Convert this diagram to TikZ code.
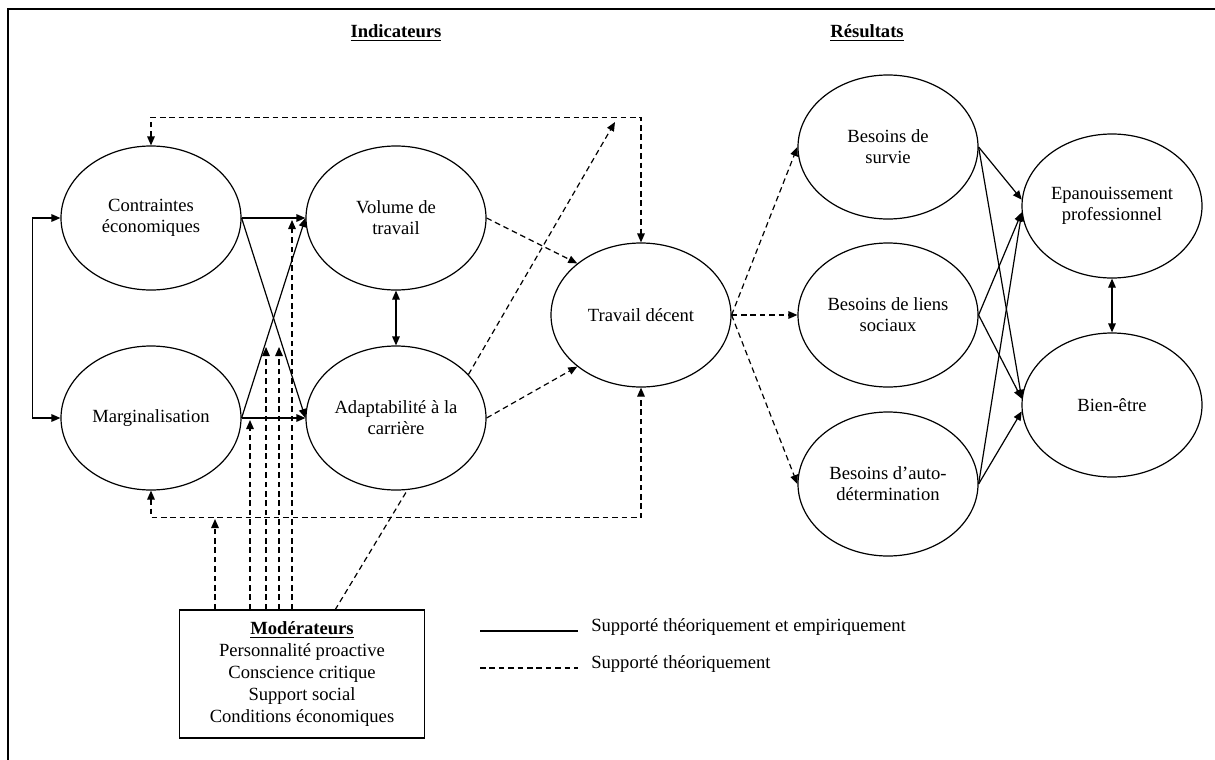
\documentclass[tikz,border=0pt]{standalone}
\usepackage{fontspec}
\setmainfont{Liberation Serif}
\usetikzlibrary{arrows.meta,shapes.geometric}

\begin{document}
\begin{tikzpicture}[x=0.5pt, y=-0.5pt, line width=0.6pt,
        >={Triangle[length=4.5pt,width=3.8pt]},
        every node/.style={font=\fontsize{9.3}{10.6}\selectfont},
        var/.style={draw, ellipse, minimum width=90pt, minimum height=72pt, inner sep=0pt, align=center},
        dl/.style={dash pattern=on 2.8pt off 1.9pt}]
    \useasboundingbox (0,0) rectangle (1215,760);
    \draw[line width=1.3pt] (8,760) -- (8,9) -- (1215,9);

    \node (ind) at (396,33) {\underline{\textbf{Indicateurs}}};
    \node (res) at (867,33) {\underline{\textbf{Résultats}}};

    \node[var] (cont)  at (151,218)  {Contraintes\\économiques};
    \node[var] (marg)  at (151,418)  {Marginalisation};
    \node[var] (vol)   at (396,218)  {Volume de\\travail};
    \node[var] (adapt) at (396,418)  {Adaptabilité à la\\carrière};
    \node[var] (trav)  at (641,315)  {Travail décent};
    \node[var] (surv)  at (888,147)  {Besoins de\\survie};
    \node[var] (lien)  at (888,315)  {Besoins de liens\\sociaux};
    \node[var] (auto)  at (888,484)  {Besoins d’auto-\\détermination};
    \node[var] (epan)  at (1112,206) {Epanouissement\\professionnel};
    \node[var] (bien)  at (1112,405) {Bien-être};

    \node[draw, minimum width=122.5pt, minimum height=64pt, align=center, inner sep=1pt,
          font=\fontsize{9.3}{11}\selectfont] (mod) at (302,674)
        {\underline{\textbf{Modérateurs}}\\Personnalité proactive\\Conscience critique\\Support social\\Conditions économiques};

    \draw[<->] (cont.west) -- ++(-28,0) |- (marg.west);
    \draw[->] (cont.east) -- (vol.west);
    \draw[->] (cont.east) -- (adapt.west);
    \draw[->] (marg.east) -- (vol.west);
    \draw[->] (marg.east) -- (adapt.west);
    \draw[<->] (vol.south) -- (adapt.north);

    \draw[dl,->] (vol.east) -- (trav.141);
    \draw[dl,->] (adapt.east) -- (trav.219);
    \coordinate (a1) at (615,122);
    \draw[dl,->] (adapt.31) -- (a1);
    \draw[dl,<->] (cont.north) -- ++(0,-28) -| (trav.north);
    \draw[dl,<->] (marg.south) -- ++(0,27) -| (trav.south);

    \coordinate (m1) at (215,519);
    \coordinate (m2) at (250,420);
    \coordinate (m3) at (266,347);
    \coordinate (m4) at (279,347);
    \coordinate (m5) at (292,220);
    \foreach \m in {m1,m2,m3,m4,m5}
        \draw[dl,->] (mod.north -| \m) -- (\m);
    \coordinate (d1) at (335,610);
    \draw[dl] (d1) -- (adapt.-81);

    \draw[dl,->] (trav.east) -- (surv.west);
    \draw[dl,->] (trav.east) -- (lien.west);
    \draw[dl,->] (trav.east) -- (auto.west);

    \draw[->] (surv.east) -- (epan.176);
    \draw[->] (surv.east) -- (bien.176);
    \draw[->] (lien.east) -- (epan.184);
    \draw[->] (lien.east) -- (bien.176);
    \draw[->] (auto.east) -- (epan.184);
    \draw[->] (auto.east) -- (bien.184);
    \draw[<->] (epan.south) -- (bien.north);

    \node[anchor=base west] (lg1) at (584,631) {Supporté théoriquement et empiriquement};
    \node[anchor=base west] (lg2) at (584,668) {Supporté théoriquement};
    \draw ([xshift=-52pt]lg1.base west) -- ([xshift=-3pt]lg1.base west);
    \draw[dl] ([xshift=-52pt]lg2.base west) -- ([xshift=-3pt]lg2.base west);
\end{tikzpicture}
\end{document}
